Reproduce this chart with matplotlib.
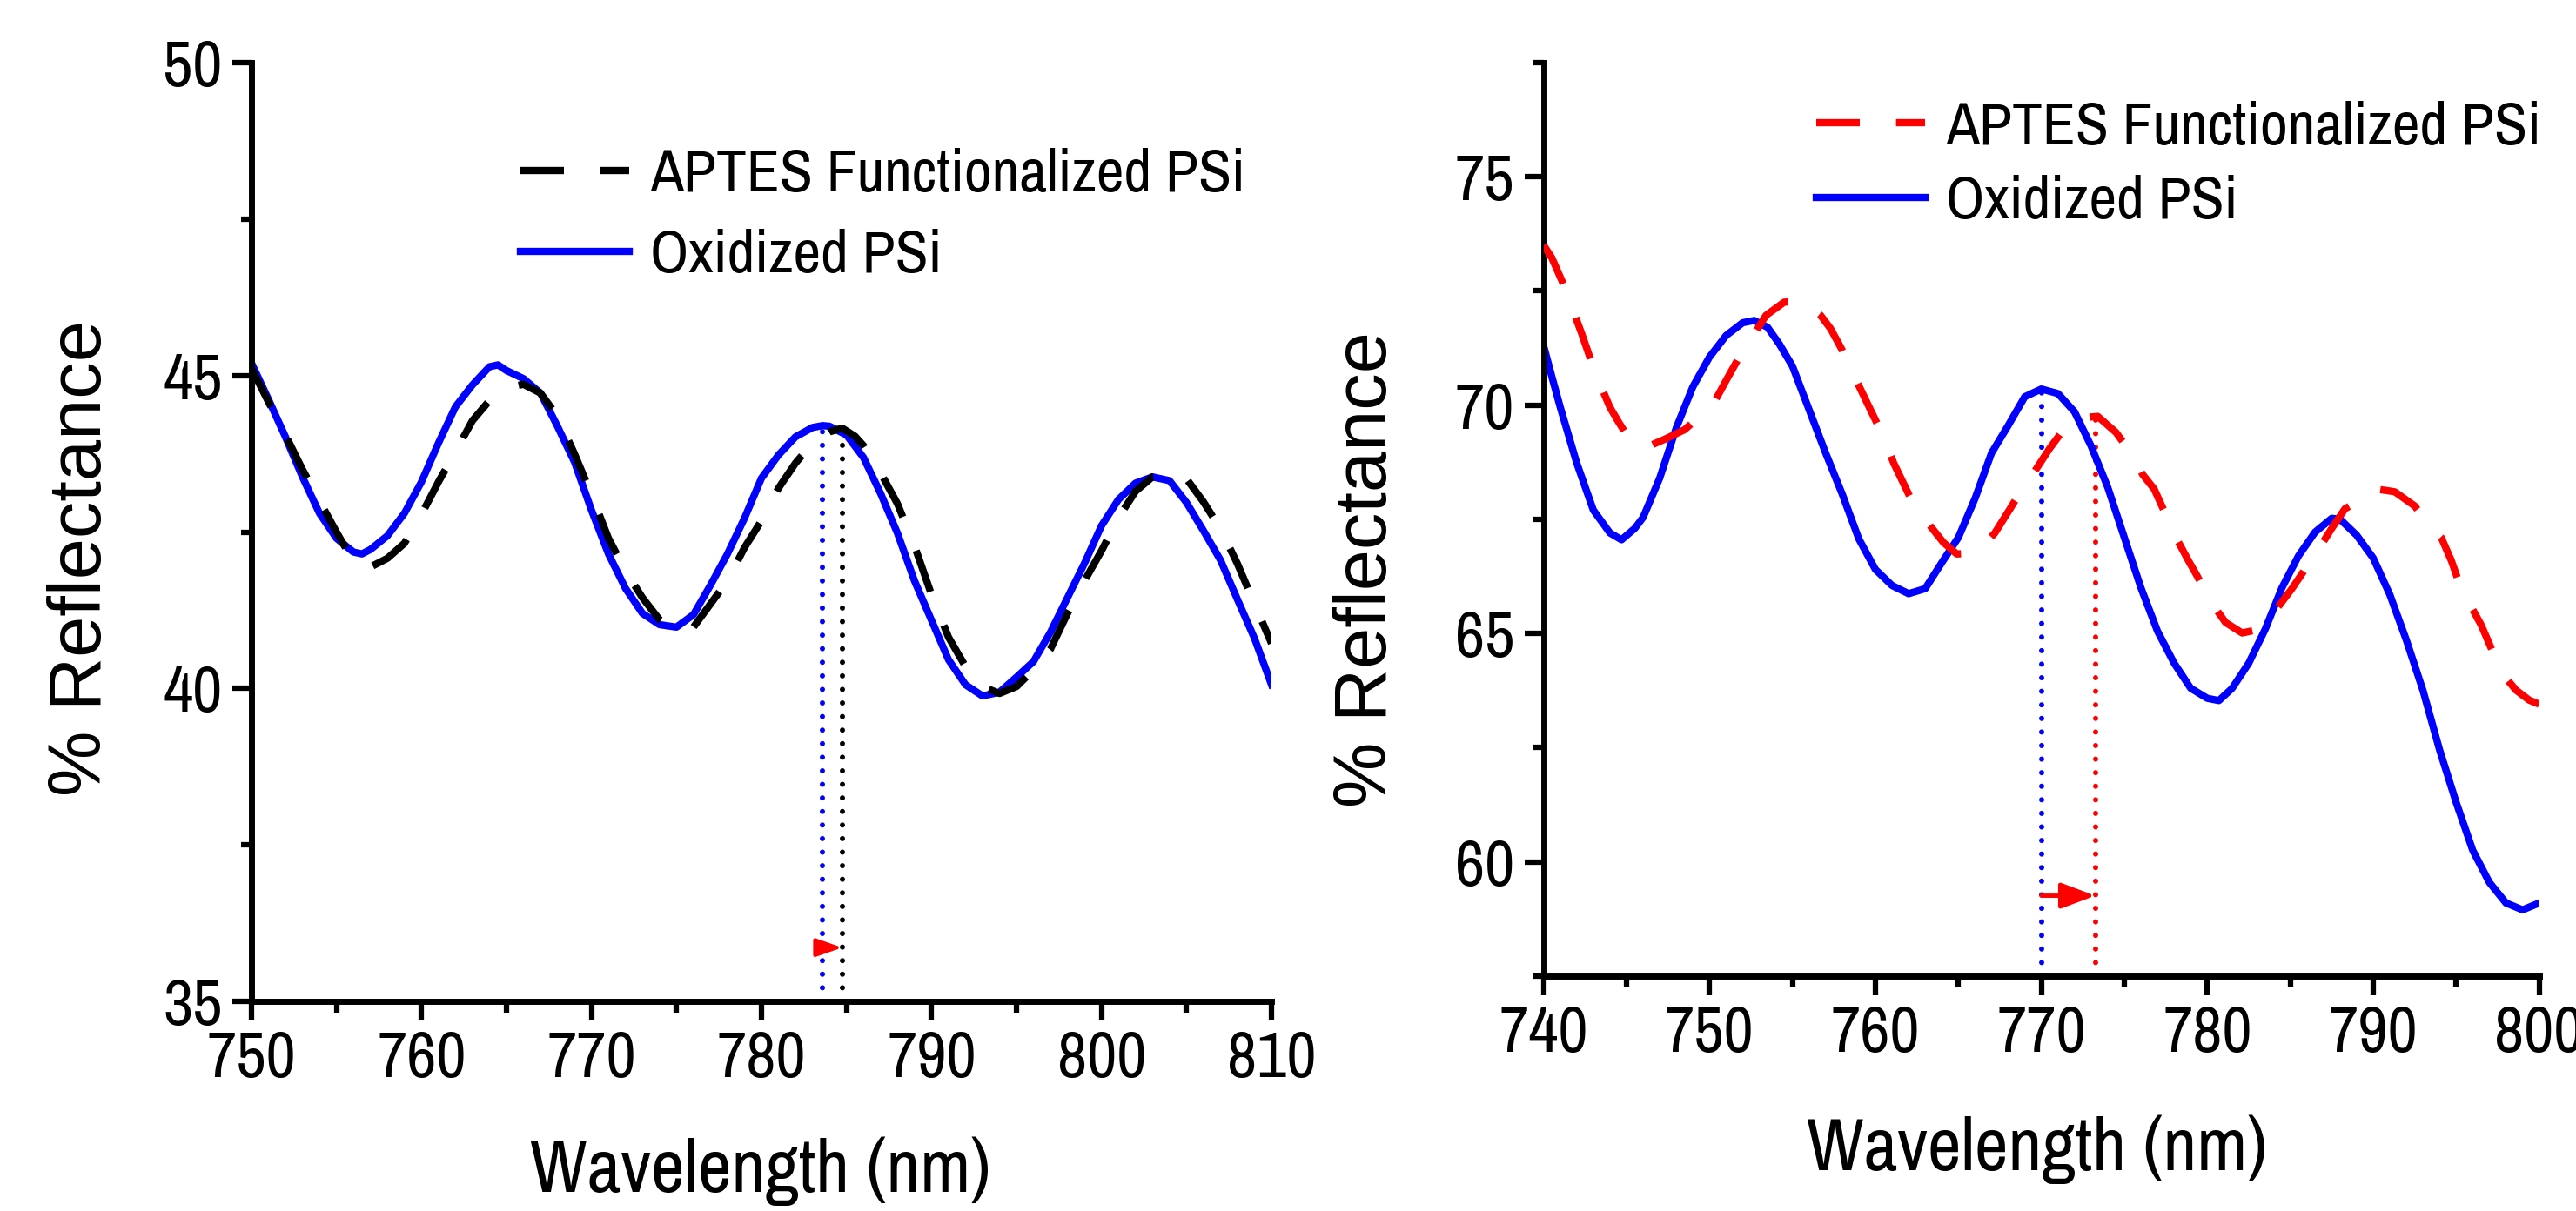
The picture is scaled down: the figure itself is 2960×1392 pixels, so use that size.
import matplotlib
matplotlib.use('Agg')
import matplotlib.pyplot as plt
from matplotlib import font_manager
from matplotlib.ticker import MultipleLocator

# left panel: 750-810 nm
left_wl_ox = [750, 751, 752, 753, 754, 755, 756, 756.5, 757, 758, 759, 760, 761, 762, 763, 764,
              764.5, 765, 766, 767, 768, 769, 770, 771, 772, 773, 774, 775, 776, 777, 778, 779,
              780, 781, 782, 783, 783.6, 784, 785, 786, 787, 788, 789, 790, 791, 792, 793, 794,
              795, 796, 797, 798, 799, 800, 801, 802, 803, 804, 805, 806, 807, 808, 809, 810]
left_r_ox = [45.2, 44.62, 44.02, 43.38, 42.8, 42.4, 42.18, 42.15, 42.22, 42.44, 42.8, 43.3, 43.92, 44.5, 44.85, 45.14,
             45.17, 45.08, 44.95, 44.72, 44.19, 43.62, 42.85, 42.15, 41.6, 41.2, 41.02, 40.98, 41.18, 41.65, 42.15, 42.72,
             43.36, 43.73, 44.02, 44.17, 44.2, 44.19, 44.05, 43.69, 43.12, 42.48, 41.72, 41.09, 40.46, 40.06, 39.88, 39.94,
             40.18, 40.43, 40.9, 41.45, 42.0, 42.6, 43.02, 43.28, 43.38, 43.32, 42.97, 42.52, 42.05, 41.42, 40.8, 40.06]

left_wl_ap = [750, 751, 752, 753, 754, 755, 756, 757, 758, 759, 760, 761, 762, 763, 764, 765,
              766, 767, 768, 769, 770, 771, 772, 773, 774, 775, 776, 777, 778, 779, 780, 781,
              782, 783, 784, 784.75, 785.5, 786, 787, 788, 789, 790, 791, 792, 793, 794, 795, 796,
              797, 798, 799, 800, 801, 802, 803, 804, 805, 806, 807, 808, 809, 810]
left_r_ap = [45.12, 44.58, 44.05, 43.5, 43.0, 42.5, 42.03, 41.94, 42.08, 42.32, 42.78, 43.3, 43.78, 44.28, 44.6, 44.8,
             44.86, 44.72, 44.35, 43.75, 43.1, 42.4, 41.88, 41.45, 41.1, 40.93, 40.98, 41.35, 41.72, 42.25, 42.68, 43.2,
             43.6, 43.92, 44.1, 44.16, 44.03, 43.88, 43.45, 42.95, 42.28, 41.5, 40.82, 40.35, 40.03, 39.92, 40.03, 40.3,
             40.63, 41.2, 41.72, 42.2, 42.73, 43.15, 43.38, 43.4, 43.35, 42.98, 42.55, 41.99, 41.35, 40.72]

# right panel: 740-800 nm
right_wl_ox = [740, 740.5, 741, 742, 743, 744, 744.7, 745.5, 746, 747, 748, 749, 750, 751, 752, 752.7,
               753.5, 754.2, 755, 756, 757, 758, 759, 760, 761, 762, 763, 764, 765, 766, 767, 768,
               769, 770, 771, 772, 773, 774, 775, 776, 777, 778, 779, 780, 780.7, 781.5, 782.5, 783.5,
               784.5, 785.5, 786.5, 787.5, 788, 789, 790, 791, 792, 793, 794, 795, 796, 797, 798, 799, 800]
right_r_ox = [71.3, 70.62, 69.96, 68.73, 67.7, 67.2, 67.05, 67.3, 67.54, 68.4, 69.5, 70.4, 71.05, 71.52, 71.8, 71.85,
              71.7, 71.34, 70.85, 69.9, 68.95, 68.05, 67.07, 66.4, 66.05, 65.87, 65.98, 66.55, 67.1, 67.95, 68.95, 69.55,
              70.18, 70.35, 70.25, 69.85, 69.1, 68.2, 67.1, 66.0, 65.05, 64.35, 63.8, 63.58, 63.53, 63.8, 64.35, 65.1,
              66.0, 66.7, 67.22, 67.52, 67.5, 67.15, 66.65, 65.85, 64.85, 63.75, 62.45, 61.3, 60.25, 59.55, 59.1, 58.95, 59.1]

right_wl_ap = [740, 740.5, 741.2, 742.3, 743.1, 744, 744.5, 745, 745.6, 746.1, 747.3, 748.5, 749.4, 750.3, 751.1, 751.9,
               752.7, 753.4, 754.5, 755.6, 756.2, 756.7, 757.3, 758, 758.7, 759.8, 760.5, 761.1, 762.2, 763.2, 764.1, 764.9,
               765.6, 766.3, 767.2, 768.1, 769, 769.6, 770.5, 771.5, 772.4, 773.4, 774.5, 775.5, 776.1, 776.8, 777.5, 778.2,
               778.9, 779.4, 780.2, 781.1, 782.1, 783, 784, 785.1, 785.9, 786.6, 787.5, 788.3, 789.1, 790.2, 791.3, 792.5,
               793.4, 794.1, 794.7, 795.3, 796.5, 797.2, 797.9, 798.6, 799.4, 800]
right_r_ap = [73.5, 73.22, 72.64, 71.56, 70.72, 69.95, 69.64, 69.35, 69.13, 69.06, 69.25, 69.46, 69.75, 70.07, 70.6, 71.12,
              71.55, 71.96, 72.25, 72.28, 72.1, 71.96, 71.67, 71.2, 70.65, 69.82, 69.3, 68.73, 67.9, 67.4, 66.99, 66.74,
              66.75, 66.85, 67.2, 67.72, 68.25, 68.55, 69.05, 69.54, 69.72, 69.75, 69.4, 68.9, 68.48, 68.16, 67.6, 67.04,
              66.57, 66.25, 65.7, 65.24, 65.01, 65.08, 65.45, 65.98, 66.41, 66.78, 67.3, 67.73, 67.89, 68.16, 68.1, 67.79,
              67.36, 67.1, 66.6, 65.98, 65.19, 64.6, 64.07, 63.76, 63.54, 63.45]

# peak markers: [wavelength, peak reflectance]
left_peak_ox = [783.6, 44.19]
left_peak_ap = [784.75, 44.15]
right_peak_ox = [770.0, 70.33]
right_peak_ap = [773.25, 69.78]
left_arrow_y = 35.86
right_arrow_y = 59.26

labels = ['APTES Functionalized PSi', 'Oxidized PSi']

names = {f.name for f in font_manager.fontManager.ttflist}
narrow = 'DejaVu Sans'
for cand in ['Liberation Sans Narrow', 'Arial Narrow', 'Archivo Narrow', 'PT Sans Narrow',
             'Roboto Condensed', 'Pragati Narrow', 'Open Sans Condensed', 'Fira Sans Condensed',
             'IBM Plex Sans Condensed']:
    if cand in names:
        narrow = cand
        break
wide = 'Liberation Sans' if 'Liberation Sans' in names else 'DejaVu Sans'
plt.rcParams['font.family'] = narrow

fig = plt.figure(figsize=(29.6, 13.92), dpi=100)
ax1 = fig.add_axes([0.0976, 0.1731, 0.396, 0.7752])
ax2 = fig.add_axes([0.5992, 0.194, 0.3865, 0.7545])


def style_axes(ax, xlim, ylim):
    ax.set_xlim(xlim)
    ax.set_ylim(ylim)
    for s in ['top', 'right']:
        ax.spines[s].set_visible(False)
    for s in ['left', 'bottom']:
        ax.spines[s].set_linewidth(5)
    ax.xaxis.set_major_locator(MultipleLocator(10))
    ax.xaxis.set_minor_locator(MultipleLocator(5))
    ax.yaxis.set_major_locator(MultipleLocator(5))
    ax.yaxis.set_minor_locator(MultipleLocator(2.5))
    ax.tick_params(which='major', direction='out', length=16, width=4.5, pad=8, labelsize=54)
    ax.tick_params(which='minor', direction='out', length=9, width=4.5)


dash = (0, (6, 5))
dots = (0, (0.01, 2.6))

# left
l_ox, = ax1.plot(left_wl_ox, left_r_ox, color='#0000ff', lw=6, zorder=2)
l_ap, = ax1.plot(left_wl_ap, left_r_ap, color='black', lw=6, ls=dash, zorder=3)
ax1.plot([left_peak_ox[0]] * 2, [35, left_peak_ox[1]], color='#0000ff', lw=4.3,
         ls=dots, dash_capstyle='round', zorder=1)
ax1.plot([left_peak_ap[0]] * 2, [35, left_peak_ap[1]], color='black', lw=4.3,
         ls=dots, dash_capstyle='round', zorder=1)
ax1.annotate('', xy=(left_peak_ap[0], left_arrow_y), xytext=(left_peak_ox[0], left_arrow_y),
             arrowprops=dict(arrowstyle='-|>,head_length=1.0,head_width=0.35', color='red',
                             lw=3, mutation_scale=18, shrinkA=0, shrinkB=0))
style_axes(ax1, (750, 810), (35, 50))
ax1.legend([l_ap, l_ox], labels, loc='upper left', bbox_to_anchor=(0.202, 0.878),
           bbox_transform=fig.transFigure, frameon=False, fontsize=50, handlelength=1.8,
           handletextpad=0.35, labelspacing=0.45, borderpad=0, borderaxespad=0)
ax1.set_xlabel('Wavelength (nm)', fontsize=61, va='center')
ax1.xaxis.set_label_coords(0.499, -0.181)
ax1.set_ylabel('% Reflectance', fontsize=61, family=wide, va='center')
ax1.yaxis.set_label_coords(-0.166, 0.472)

# right
r_ox, = ax2.plot(right_wl_ox, right_r_ox, color='#0000ff', lw=6, zorder=2)
r_ap, = ax2.plot(right_wl_ap, right_r_ap, color='red', lw=6, ls=dash, zorder=3)
ax2.plot([right_peak_ox[0]] * 2, [57.5, right_peak_ox[1]], color='#0000ff', lw=4.3,
         ls=dots, dash_capstyle='round', zorder=1)
ax2.plot([right_peak_ap[0]] * 2, [57.5, right_peak_ap[1]], color='red', lw=4.3,
         ls=dots, dash_capstyle='round', zorder=1)
ax2.annotate('', xy=(right_peak_ap[0], right_arrow_y), xytext=(right_peak_ox[0], right_arrow_y),
             arrowprops=dict(arrowstyle='-|>,head_length=1.0,head_width=0.375', color='red',
                             lw=3.5, mutation_scale=24, shrinkA=0, shrinkB=0))
style_axes(ax2, (740, 800), (57.5, 77.5))
ax2.legend([r_ap, r_ox], labels, loc='upper left', bbox_to_anchor=(0.705, 0.917),
           bbox_transform=fig.transFigure, frameon=False, fontsize=50, handlelength=1.8,
           handletextpad=0.35, labelspacing=0.34, borderpad=0, borderaxespad=0)
ax2.set_xlabel('Wavelength (nm)', fontsize=61, va='center')
ax2.xaxis.set_label_coords(0.496, -0.19)
ax2.set_ylabel('% Reflectance', fontsize=61, family=wide, va='center')
ax2.yaxis.set_label_coords(-0.177, 0.445)

fig.savefig('out.png', dpi=100, facecolor='white')
